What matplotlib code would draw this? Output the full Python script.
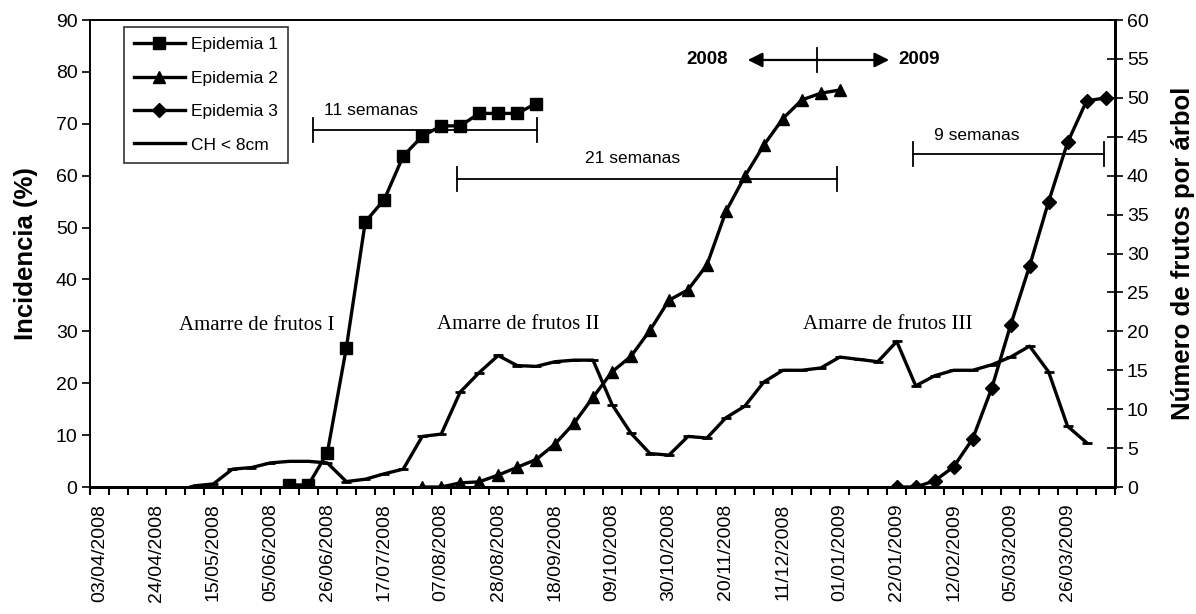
import numpy as np
import pandas as pd
import matplotlib
matplotlib.use('Agg')
import matplotlib.pyplot as plt
from matplotlib.ticker import FixedLocator, NullFormatter

plt.rcParams['font.family'] = ['Liberation Sans', 'DejaVu Sans']

# semanas de muestreo (eje de categorias)
semanas = pd.date_range('2008-04-03', periods=54, freq='7D')

# incidencia (%) - eje izquierdo
epi1_inicio = '2008-06-12'
epi1 = [0.4, 0.4, 6.6, 26.8, 51.1, 55.4, 63.8, 67.6, 69.6, 69.6, 72.0, 72.0, 72.0, 73.9]

epi2_inicio = '2008-07-31'
epi2 = [0.0, 0.0, 0.8, 1.0, 2.3, 3.8, 5.3, 8.3, 12.3, 17.3, 22.2, 25.2,
        30.2, 36.0, 38.0, 42.8, 53.1, 59.9, 65.9, 71.0, 74.6, 75.9, 76.5]

epi3_inicio = '2009-01-22'
epi3 = [0.0, 0.0, 1.2, 3.9, 9.3, 19.0, 31.2, 42.6, 55.0, 66.4, 74.4, 75.0]

# numero de frutos por arbol (CH < 8cm) - eje derecho
ch_inicio = '2008-05-08'
ch = [0.15, 0.4, 2.3, 2.5, 3.1, 3.3, 3.3, 3.1, 0.7, 1.0, 1.7, 2.3, 6.5, 6.8,
      12.2, 14.7, 16.9, 15.6, 15.5, 16.1, 16.3, 16.3, 10.6, 6.9, 4.3, 4.1,
      6.5, 6.3, 8.9, 10.4, 13.5, 15.0, 15.0, 15.3, 16.7, 16.4, 16.1, 18.7,
      13.0, 14.3, 15.0, 15.0, 15.7, 16.7, 18.1, 14.8, 7.8, 5.7]


def pos(inicio, vals):
    d0 = (pd.Timestamp(inicio) - semanas[0]).days / 7
    return d0 + np.arange(len(vals))


fig = plt.figure(figsize=(11.96, 6.14), dpi=100)
ax = fig.add_axes([0.0753, 0.2068, 0.857, 0.7606])
ax2 = ax.twinx()

lw = 2.4
l1, = ax.plot(pos(epi1_inicio, epi1), epi1, color='black', lw=lw, marker='s', ms=8, label='Epidemia 1')
l2, = ax.plot(pos(epi2_inicio, epi2), epi2, color='black', lw=lw, marker='^', ms=8.5, label='Epidemia 2')
l3, = ax.plot(pos(epi3_inicio, epi3), epi3, color='black', lw=lw, marker='D', ms=7, label='Epidemia 3')
l4, = ax2.plot(pos(ch_inicio, ch), ch, color='black', lw=lw, marker='_', ms=7, mew=2, label='CH < 8cm')

ax.set_xlim(-0.5, len(semanas) - 0.5)
ax.set_ylim(0, 90)
ax2.set_ylim(0, 60)
ax.set_yticks(np.arange(0, 91, 10))
ax2.set_yticks(np.arange(0, 61, 5))

idx = np.arange(0, len(semanas), 3)
ax.set_xticks(idx)
ax.set_xticklabels([semanas[i].strftime('%d/%m/%Y') for i in idx], rotation=90, fontsize=14)
ax.xaxis.set_minor_locator(FixedLocator(np.arange(len(semanas) + 1) - 0.5))
ax.xaxis.set_minor_formatter(NullFormatter())
ax.tick_params(axis='x', which='major', length=0, pad=12)
ax.tick_params(axis='x', which='minor', length=6, width=1.5, direction='out')
ax.tick_params(axis='y', length=6, width=1.2, labelsize=14, pad=3)
ax2.tick_params(axis='y', length=11, width=1.2, direction='inout', labelsize=14, pad=3)

for a in (ax, ax2):
    a.spines['top'].set_linewidth(1.2)
    a.spines['bottom'].set_linewidth(2)
    a.spines['left'].set_linewidth(1.2)
    a.spines['right'].set_linewidth(2)

ax.set_ylabel('Incidencia (%)', fontsize=18.5, fontweight='bold', labelpad=13)
ax2.set_ylabel('Número de frutos por árbol', fontsize=18.5, fontweight='bold', labelpad=16)

# intervalos de semanas
def intervalo(x0, x1, y, txt, tx, ty):
    ax.plot([x0, x1], [y, y], color='black', lw=1.3)
    ax.plot([x0, x0], [y - 2.3, y + 2.3], color='black', lw=1.3)
    ax.plot([x1, x1], [y - 2.3, y + 2.3], color='black', lw=1.3)
    ax.text(tx, ty, txt, fontsize=12.5, ha='center', va='center')

intervalo(11.26, 23.04, 68.8, '11 semanas', 14.3, 72.6)
intervalo(18.83, 38.83, 59.3, '21 semanas', 28.1, 63.4)
intervalo(42.83, 52.92, 64.1, '9 semanas', 46.2, 67.8)

# cambio de año
ya = 82.3
ax.annotate('', xy=(34.15, ya), xytext=(37.78, ya),
            arrowprops=dict(arrowstyle='-|>', lw=1.6, color='black', mutation_scale=22, shrinkA=0, shrinkB=0))
ax.annotate('', xy=(41.6, ya), xytext=(37.78, ya),
            arrowprops=dict(arrowstyle='-|>', lw=1.6, color='black', mutation_scale=22, shrinkA=0, shrinkB=0))
ax.plot([37.78, 37.78], [ya - 2.3, ya + 2.3], color='black', lw=1.3)
ax.text(32.0, ya, '2008', fontsize=13.5, fontweight='bold', ha='center', va='center')
ax.text(43.2, ya, '2009', fontsize=13.5, fontweight='bold', ha='center', va='center')

serif = ['Liberation Serif', 'DejaVu Serif']
ax.text(8.26, 31.2, 'Amarre de frutos I', fontsize=15, family=serif, ha='center', va='center')
ax.text(22.06, 31.4, 'Amarre de frutos II', fontsize=15, family=serif, ha='center', va='center')
ax.text(41.5, 31.4, 'Amarre de frutos III', fontsize=15, family=serif, ha='center', va='center')

leg = ax2.legend(handles=[l1, l2, l3, l4], loc='upper left', bbox_to_anchor=(0.0244, 1.004),
                 fontsize=12.5, frameon=True, fancybox=False, edgecolor='black',
                 handlelength=2.9, handletextpad=0.35, labelspacing=1.05, borderpad=0.6)
leg.get_frame().set_linewidth(1.2)

fig.savefig('out.png', dpi=100)
